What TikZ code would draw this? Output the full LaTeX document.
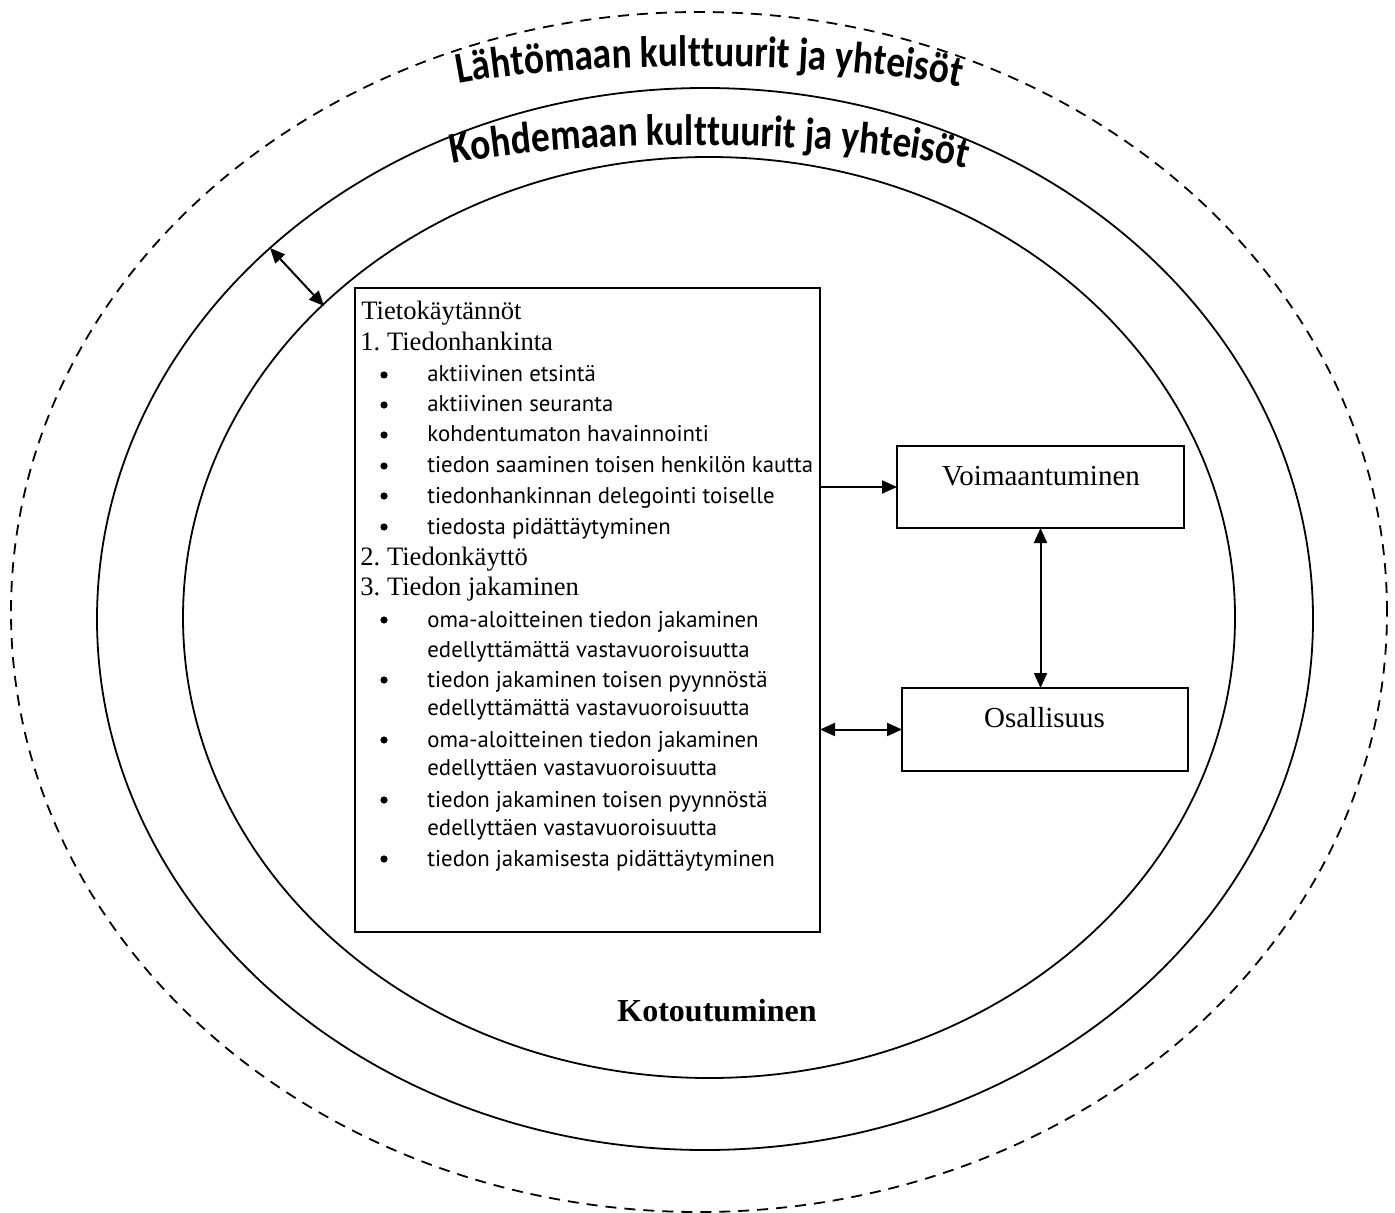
\documentclass[tikz,border=0pt]{standalone}
\usepackage{fontspec}
\setmainfont{Liberation Serif}
\newfontfamily\itemfont{PT Sans}
\newfontfamily\titlefont[FakeStretch=0.85]{Carlito}
\usetikzlibrary{arrows.meta,decorations.text}
\tikzset{
  ring/.style={line width=0.9pt},
  outerring/.style={line width=0.9pt, dash pattern=on 5.5pt off 4pt},
  frame/.style={draw, line width=1pt, inner sep=0pt, outer sep=0pt},
  conn/.style={line width=1pt, -{Triangle[length=7.5pt,width=6.5pt]}},
  biconn/.style={line width=1pt, {Triangle[length=7.5pt,width=6.5pt]}-{Triangle[length=7.5pt,width=6.5pt]}},
  hd/.style={anchor=base west, inner sep=0pt, font=\fontsize{13.3}{15}\selectfont},
  itm/.style={anchor=base west, inner sep=0pt, font=\itemfont\fontsize{11.4}{14}\selectfont},
  bul/.style={circle, fill, inner sep=0pt, minimum size=3.6pt},
  boxtext/.style={anchor=base, inner sep=0pt, font=\fontsize{14.5}{17}\selectfont},
  arctitle/.style={decorate, decoration={text along path, text align=center,
     text format delimiters={|}{|}, text={|\titlefont\bfseries\fontsize{22}{24}\selectfont|#1}}}
}
\begin{document}
\frenchspacing
\begin{tikzpicture}[x=0.5pt,y=-0.5pt]
\useasboundingbox (0,0) rectangle (1395,1213);
% rings
\draw[outerring] (699,612) ellipse [x radius=344pt, y radius=300pt];
\draw[ring] (705,619) ellipse [x radius=304pt, y radius=265.5pt];
\draw[ring] (709,617.5) ellipse [x radius=263pt, y radius=230.25pt];
% curved titles
\path[arctitle={Lähtömaan kulttuurit ja yhteisöt}] (435,89) .. controls (555,58) and (865,58) .. (983,93);
\path[arctitle={Kohdemaan kulttuurit ja yhteisöt}] (435,168) .. controls (555,137) and (865,137) .. (983,173);
% arrow between rings
\coordinate (ra) at (270,248);
\coordinate (rb) at (324,306);
\draw[biconn] (ra) -- (rb);
% main box
\node[frame, minimum width=232.5pt, minimum height=322pt] (tk) at (587.5,610) {};
\node[hd] (h1) at (361,320) {Tietokäytännöt};
\node[hd] (h2) at (360,351) {1. Tiedonhankinta};
\node[hd] (h3) at (360,565) {2. Tiedonkäyttö};
\node[hd] (h4) at (360,595) {3. Tiedon jakaminen};
\foreach \yy [count=\i] in {382,412,442,473,503,534,627,687,747,807,866}
  \node[bul] (b\i) at (384,\yy-7) {};
\node[itm] (i1) at (427,382) {aktiivinen etsintä};
\node[itm] (i2) at (427,412) {aktiivinen seuranta};
\node[itm] (i3) at (427,442) {kohdentumaton havainnointi};
\node[itm] (i4) at (427,473) {tiedon saaminen toisen henkilön kautta};
\node[itm] (i5) at (427,503) {tiedonhankinnan delegointi toiselle};
\node[itm] (i6) at (427,534) {tiedosta pidättäytyminen};
\node[itm] (i7) at (427,627) {oma-aloitteinen tiedon jakaminen};
\node[itm] (i8) at (427,657) {edellyttämättä vastavuoroisuutta};
\node[itm] (i9) at (427,687) {tiedon jakaminen toisen pyynnöstä};
\node[itm] (i10) at (427,715) {edellyttämättä vastavuoroisuutta};
\node[itm] (i11) at (427,747) {oma-aloitteinen tiedon jakaminen};
\node[itm] (i12) at (427,775) {edellyttäen vastavuoroisuutta};
\node[itm] (i13) at (427,807) {tiedon jakaminen toisen pyynnöstä};
\node[itm] (i14) at (427,835) {edellyttäen vastavuoroisuutta};
\node[itm] (i15) at (427,866) {tiedon jakamisesta pidättäytyminen};
% right boxes
\node[frame, minimum width=143.5pt, minimum height=41pt] (vb) at (1040.5,487) {};
\node[boxtext] (vt) at (1041,485) {Voimaantuminen};
\node[frame, minimum width=143pt, minimum height=41.5pt] (ob) at (1045,729.5) {};
\node[boxtext] (ot) at (1044.5,727) {Osallisuus};
% connectors
\draw[conn] (tk.east |- vb.west) -- (vb.west);
\draw[biconn] (vb.south) -- (vb.south |- ob.north);
\draw[biconn] (tk.east |- ob.west) -- (ob.west);
% bottom label
\node[anchor=base, inner sep=0pt, font=\bfseries\fontsize{16}{19}\selectfont] (kot) at (717,1021) {Kotoutuminen};
\end{tikzpicture}
\end{document}
